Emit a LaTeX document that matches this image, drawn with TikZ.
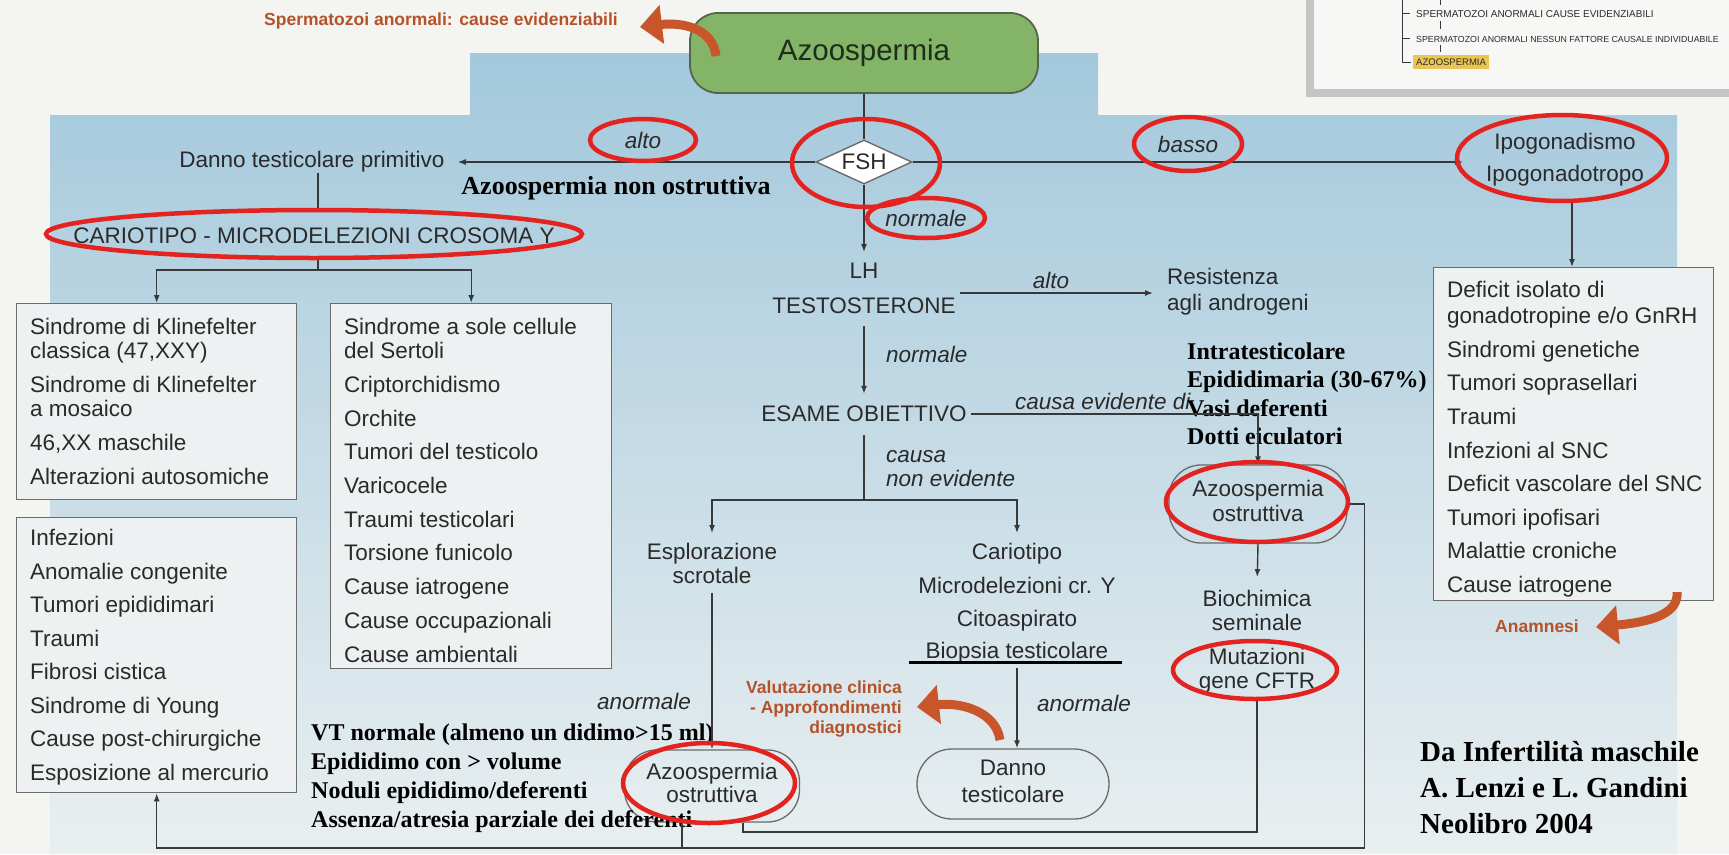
\documentclass[tikz,border=0pt]{standalone}
\usepackage{fontspec}
\setmainfont{Liberation Sans}
\newfontfamily\serifb{Liberation Serif}
\usetikzlibrary{shapes.geometric,arrows.meta,calc}
\pgfdeclarelayer{bg}
\pgfdeclarelayer{top}
\pgfsetlayers{bg,main,top}

\definecolor{bgw}{HTML}{F4F4F1}
\definecolor{bluetop}{HTML}{A3C8DC}
\definecolor{bluemid}{HTML}{C4DAE4}
\definecolor{bluebot}{HTML}{E9EFF0}
\definecolor{txtc}{HTML}{2A2A2A}
\definecolor{linec}{HTML}{383838}
\definecolor{boxline}{HTML}{6B6B6B}
\definecolor{boxfill}{HTML}{EEF1F1}
\definecolor{ringred}{HTML}{E2231F}
\definecolor{orng}{HTML}{C9552A}
\definecolor{orngtxt}{HTML}{B4532A}
\definecolor{greenbox}{HTML}{84B468}
\definecolor{greenline}{HTML}{55654C}
\definecolor{titletxt}{HTML}{1E2E1A}
\definecolor{insetframe}{HTML}{C4C4C4}
\definecolor{insetin}{HTML}{F7F7F6}
\definecolor{hilite}{HTML}{E9C654}

\tikzset{
  sans/.style={font=\fontsize{22.5}{23}\selectfont, text=txtc, inner sep=0pt},
  lbl/.style={sans, font=\fontsize{22.5}{23}\selectfont\itshape},
  lst/.style={sans, align=left, anchor=north west},
  ctr/.style={sans, align=center},
  boldt/.style={font=\serifb\bfseries\fontsize{24}{28.5}\selectfont, text=black, inner sep=0pt, align=left},
  otxt/.style={font=\bfseries\fontsize{17.5}{20}\selectfont, text=orngtxt, inner sep=0pt},
  listbox/.style={draw=boxline, line width=1.4pt, fill=boxfill, anchor=north west, inner sep=0pt},
  rbox/.style={sans, align=center, draw=boxline, line width=1.3pt, rounded corners=32pt},
  conn/.style={draw=linec, line width=1.4pt},
  arr/.style={conn, -{Latex[length=8pt,width=6pt]}},
  ring/.style={draw=ringred, line width=4.5pt, ellipse, inner sep=0pt},
  oarr/.style={draw=orng, line width=9pt, -{Triangle[length=22pt,width=38pt]}},
  insettxt/.style={font=\fontsize{10}{11}\selectfont, text=txtc, anchor=west, inner sep=0pt},
}

\begin{document}
\begin{tikzpicture}[x=1pt,y=-1pt]
\useasboundingbox (0,0) rectangle (1729,854);
\clip (0,0) rectangle (1729,854);

\begin{pgfonlayer}{bg}
\fill[bgw] (0,0) rectangle (1729,854);
\shade[top color=bluetop, middle color=bluemid, bottom color=bluebot]
  (50,115) -- (470,115) -- (470,53) -- (1098,53) -- (1098,115) -- (1677,115) -- (1677,854) -- (50,854) -- cycle;
% inset
\fill[insetframe] (1306,-2) rectangle (1731,97);
\fill[insetin] (1314,-2) rectangle (1731,89);
\draw[linec, line width=1pt] (1402,-2) -- (1402,62) -- (1411,62);
\draw[linec, line width=1pt] (1402,13) -- (1410,13) (1402,38) -- (1410,38);
\draw[linec, line width=1pt] (1440,-2) -- (1440,5) (1440,21) -- (1440,29) (1440,45) -- (1440,52);
\end{pgfonlayer}

\node[insettxt] (ins1) at (1416,14) {SPERMATOZOI ANORMALI CAUSE EVIDENZIABILI};
\node[insettxt, font=\fontsize{8.8}{10}\selectfont] (ins2) at (1416,39) {SPERMATOZOI ANORMALI NESSUN FATTORE CAUSALE INDIVIDUABILE};
\node[insettxt, fill=hilite, inner xsep=3pt, inner ysep=4pt, font=\fontsize{9.5}{10}\selectfont] (ins3) at (1413,62) {AZOOSPERMIA};

% rings and orange arrows on top layer
\begin{pgfonlayer}{top}
\node[ring, minimum width=106pt, minimum height=42pt] (ralto) at (643,140) {};
\node[ring, minimum width=148pt, minimum height=88pt] (rfsh) at (866,163) {};
\node[ring, minimum width=108pt, minimum height=54pt] (rbasso) at (1188,144) {};
\node[ring, minimum width=210pt, minimum height=86pt] (ripogo) at (1562,158) {};
\node[ring, minimum width=118pt, minimum height=40pt] (rnorm) at (926,218) {};
\node[ring, minimum width=536pt, minimum height=48pt] (rcario) at (314,234) {};
\node[ring, minimum width=182pt, minimum height=80pt] (razoR) at (1257,502) {};
\node[ring, minimum width=164pt, minimum height=58pt] (rmutaz) at (1255,670) {};
\node[ring, minimum width=172pt, minimum height=80pt] (razoL) at (709,783) {};
\draw[oarr] (716,56) .. controls (713,28) and (682,22) .. (640,27);
\draw[oarr] (1000,740) .. controls (996,712) and (962,702) .. (917,707);
\draw[oarr] (1677,592) .. controls (1679,614) and (1650,622) .. (1596,627);
\end{pgfonlayer}

% title and decision
\node[draw=greenline, line width=1.8pt, fill=greenbox, rounded corners=28pt, minimum width=348pt, minimum height=80pt, font=\fontsize{29.5}{34}\selectfont, text=titletxt] (title) at (864,53) {Azoospermia};
\node[otxt] (sperm) at (441,21) {Spermatozoi anormali: cause evidenziabili};
\node[diamond, aspect=2.2, draw=boxline, line width=1.4pt, fill=white, minimum width=96pt, minimum height=44pt, sans] (fsh) at (864,162) {FSH};

% row labels
\node[sans] (danno) at (312,162) {Danno testicolare primitivo};
\node[lbl] (alto1) at (643,140) {alto};
\node[boldt, font=\serifb\bfseries\fontsize{26}{30}\selectfont] (nonostr) at (616,188) {Azoospermia non ostruttiva};
\node[lbl] (basso) at (1188,144) {basso};
\node[ctr] (ipogo) at (1565,161) {\strut Ipogonadismo\\[8pt]\strut Ipogonadotropo};
\node[lbl] (norm1) at (926,218) {normale};
\node[sans] (cario1) at (314,236) {CARIOTIPO - MICRODELEZIONI CROSOMA Y};

% left boxes
\node[listbox, minimum width=280pt, minimum height=196pt] (boxA) at (16,303) {};
\node[lst] (boxAt) at (30,318) {\strut Sindrome di Klinefelter\\\strut classica (47,XXY)\\[9.5pt]\strut Sindrome di Klinefelter\\\strut a mosaico\\[9.5pt]\strut 46,XX maschile\\[9.5pt]\strut Alterazioni autosomiche};
\node[listbox, minimum width=281pt, minimum height=365pt] (boxB) at (330,303) {};
\node[lst] (boxBt) at (344,318) {\strut Sindrome a sole cellule\\\strut del Sertoli\\[9.5pt]\strut Criptorchidismo\\[9.5pt]\strut Orchite\\[9.5pt]\strut Tumori del testicolo\\[9.5pt]\strut Varicocele\\[9.5pt]\strut Traumi testicolari\\[9.5pt]\strut Torsione funicolo\\[9.5pt]\strut Cause iatrogene\\[9.5pt]\strut Cause occupazionali\\[9.5pt]\strut Cause ambientali};
\node[listbox, minimum width=280pt, minimum height=275pt] (boxC) at (16,517) {};
\node[lst] (boxCt) at (30,529) {\strut Infezioni\\[9.3pt]\strut Anomalie congenite\\[9.3pt]\strut Tumori epididimari\\[9.3pt]\strut Traumi\\[9.3pt]\strut Fibrosi cistica\\[9.3pt]\strut Sindrome di Young\\[9.3pt]\strut Cause post-chirurgiche\\[9.3pt]\strut Esposizione al mercurio};

% right box
\node[listbox, minimum width=280pt, minimum height=333pt] (boxD) at (1433,267) {};
\node[lst] (boxDt) at (1447,281) {\strut Deficit isolato di\\[2pt]\strut gonadotropine e/o GnRH\\[9.4pt]\strut Sindromi genetiche\\[9.4pt]\strut Tumori soprasellari\\[9.4pt]\strut Traumi\\[9.4pt]\strut Infezioni al SNC\\[9.4pt]\strut Deficit vascolare del SNC\\[9.4pt]\strut Tumori ipofisari\\[9.4pt]\strut Malattie croniche\\[9.4pt]\strut Cause iatrogene};
\node[otxt] (anam) at (1537,626) {Anamnesi};

% centre column
\node[sans] (lh) at (864,271) {LH};
\node[sans] (testo) at (864,306) {TESTOSTERONE};
\node[lbl] (alto2) at (1051,280) {alto};
\node[lst, anchor=west] (resist) at (1167,293) {\strut Resistenza\\[2pt]\strut agli androgeni};
\node[lbl, anchor=west] (norm2) at (886,354) {normale};
\node[sans] (esame) at (864,414) {ESAME OBIETTIVO};
\node[lbl, anchor=west] (causaev) at (1015,401) {causa evidente di};
\node[boldt, anchor=north west] (intra) at (1187,339) {\strut Intratesticolare\\\strut Epididimaria (30-67\%)\\\strut Vasi deferenti\\\strut Dotti eiculatori};
\node[lbl, align=left, anchor=north west] (causane) at (886,446) {\strut causa\\\strut non evidente};
\node[ctr, anchor=north] (esplor) at (712,543) {\strut Esplorazione\\\strut scrotale};
\node[ctr, anchor=north] (cariot) at (1017,543) {\strut Cariotipo\\[10pt]\strut Microdelezioni cr. Y\\[9pt]\strut Citoaspirato\\[7pt]\strut Biopsia testicolare};
\draw[line width=3pt, black] ([xshift=-9pt,yshift=3pt]cariot.south west) -- ([xshift=6pt,yshift=3pt]cariot.south east);

\node[rbox, minimum width=178pt, minimum height=78pt] (azoR) at (1258,504) {\strut Azoospermia\\[1pt]\strut ostruttiva};
\node[ctr] (biochim) at (1257,614) {\strut Biochimica\\\strut seminale};
\node[ctr] (mutaz) at (1257,672) {\strut Mutazioni\\[1pt]\strut gene CFTR};

\node[rbox, minimum width=175pt, minimum height=72pt] (azoL) at (712,786) {\strut Azoospermia\\[-1pt]\strut ostruttiva};
\node[rbox, minimum width=192pt, minimum height=70pt, rounded corners=35pt] (dannoT) at (1013,784) {\strut Danno\\[3pt]\strut testicolare};
\node[lbl, anchor=east] (anorm1) at (691,701) {anormale};
\node[lbl, anchor=west] (anorm2) at (1037,703) {anormale};
\node[boldt, font=\serifb\bfseries\fontsize{24}{29}\selectfont, anchor=north west] (vt) at (311,720) {\strut VT normale (almeno un didimo>15 ml)\\\strut Epididimo con > volume\\\strut Noduli epididimo/deferenti\\\strut Assenza/atresia parziale dei deferenti};
\node[otxt, align=right, anchor=east] (valut) at (902,709) {Valutazione clinica\\- Approfondimenti\\diagnostici};
\node[boldt, font=\serifb\bfseries\fontsize{29}{36}\selectfont, anchor=north west] (credit) at (1420,736) {\strut Da Infertilità maschile\\\strut A. Lenzi e L. Gandini\\\strut Neolibro 2004};

% connectors
\coordinate (br1) at (318,270);
\coordinate (br2) at (esame.south |- 0,500);
\coordinate (altoS) at ([xshift=4pt,yshift=13pt]testo.east);
\draw[conn] (title.south -| fsh.north) -- (fsh.north);
\draw[arr] (fsh.west) -- ([xshift=13pt]danno.east);
\draw[arr, shorten >=23pt] (fsh.east) -- (fsh.east -| ipogo.west);
\draw[arr] (ripogo.south -| 1572,0) -- (boxD.north -| 1572,0);
\draw[conn] (danno.south -| br1) -- (rcario.north -| br1);
\draw[conn] (rcario.south -| br1) -- (br1);
\draw[arr] (br1) -| (boxA.north);
\draw[arr] (br1) -| (boxB.north);
\draw[arr, shorten >=11pt] (fsh.south) -- (fsh.south |- lh.north);
\draw[arr, shorten >=14pt] (altoS) -- (altoS -| resist.west);
\draw[arr, shorten <=12pt, shorten >=12pt] (testo.south) -- (esame.south |- esame.north);
\draw[arr] ([xshift=4pt]esame.east) -- (esame.east -| azoR.north) -- (azoR.north);
\draw[conn, shorten <=13pt] (esame.south) -- (br2);
\draw[arr, shorten >=10pt] (br2) -| (esplor.north);
\draw[arr, shorten >=10pt] (br2) -| (cariot.north);
\draw[arr, shorten <=2pt] (esplor.south) -- (azoL.north);
\draw[arr, shorten <=3pt] (cariot.south) -- (cariot.south |- dannoT.north);
\draw[arr, shorten >=13pt] (azoR.south) -- (biochim.north);
\draw[conn] (rmutaz.south -| mutaz.south) -- (mutaz.south |- 0,832) -| ([xshift=31pt]azoL.south);
\draw[arr] (azoR.east) -- ++(17,0) -- ++(0,344) -| (boxC.south);
\draw[conn] ([xshift=-30pt]azoL.south) -- ++(0,26);
\end{tikzpicture}
\end{document}
